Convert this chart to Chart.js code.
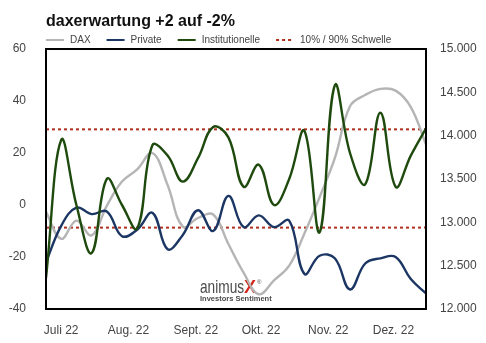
<!DOCTYPE html>
<html>
<head>
<meta charset="utf-8">
<script src="https://cdn.jsdelivr.net/npm/chart.js@4.4.0/dist/chart.umd.min.js"></script>
<style>
  html, body { margin: 0; padding: 0; background: #fff; }
</style>
</head>
<body>
<canvas id="chart" width="486" height="343"></canvas>
<script>
const title = 'daxerwartung +2 auf -2%';

// weekly values (Fridays)
const weeks = ['2022-06-24', '2022-07-01', '2022-07-08', '2022-07-15', '2022-07-22', '2022-07-29',
    '2022-08-05', '2022-08-12', '2022-08-19', '2022-08-26', '2022-09-02', '2022-09-09', '2022-09-16',
    '2022-09-23', '2022-09-30', '2022-10-07', '2022-10-14', '2022-10-21', '2022-10-28', '2022-11-04',
    '2022-11-11', '2022-11-18', '2022-11-25', '2022-12-02', '2022-12-09', '2022-12-16'];
const dax = [13120, 12810, 13020, 12850, 13190, 13470, 13610, 13800, 13430, 12950, 13050, 13090, 12750,
    12420, 12170, 12330, 12500, 12870, 13290, 13740, 14340, 14470, 14540, 14520, 14330, 13900];
const privat = [-22, -8, -1, -3.5, -2.5, -12, -9.5, -3, -17, -11.5, -2, -10, 3.5,
    -8.5, -4, -8.5, -6, -26.5, -19.5, -20.5, -32.5, -22.5, -20.5, -20, -28.5, -34];
const institutionelle = [-28, 25, 0, -18.5, 10, 0, -9, 23, 19, 9, 18, 30, 26,
    7, 15.5, 0, 10, 28.5, -10.5, 46, 20, 8, 35.5, 7, 19, 29.5];
const schwelleOben = 29.1;
const schwelleUnten = -8.7;

// x axis labels
const monthTicks = ['2022-07-01', '2022-08-01', '2022-09-01', '2022-10-01', '2022-11-01', '2022-12-01'];
const monthLabels = ['Juli 22', 'Aug. 22', 'Sept. 22', 'Okt. 22', 'Nov. 22', 'Dez. 22'];

const FONT = '"Liberation Sans", Arial, sans-serif';
Chart.defaults.font.family = FONT;

function dayOf(s) {
    return (Date.parse(s) - Date.parse(weeks[0])) / 86400000;
}
function points(values) {
    return values.map((v, i) => ({ x: dayOf(weeks[i]), y: v }));
}
function flat(v) {
    return [{ x: 0, y: v }, { x: dayOf(weeks[weeks.length - 1]), y: v }];
}
function dotted(n) {
    return String(n).replace(/\B(?=(\d{3})+(?!\d))/g, '.');
}

// frame, title, legend, watermark
const decor = {
    id: 'decor',
    beforeDatasetsDraw(chart) {
        const ctx = chart.ctx;
        ctx.save();
        ctx.textBaseline = 'alphabetic';
        ctx.fillStyle = '#4a4a4a';
        ctx.font = '19px ' + FONT;
        ctx.save();
        ctx.translate(200, 293);
        ctx.scale(0.72, 1);
        ctx.fillText('animus', 0, 0);
        ctx.restore();
        const x = 200 + ctx.measureText('animus').width * 0.72;
        ctx.fillStyle = '#d3261c';
        ctx.font = 'bold 18px ' + FONT;
        ctx.fillText('X', x, 293);
        const x2 = x + ctx.measureText('X').width;
        ctx.fillStyle = '#4a4a4a';
        ctx.font = '6px ' + FONT;
        ctx.fillText('®', x2 + 1, 284);
        ctx.font = 'bold 7.5px ' + FONT;
        ctx.fillText('Investors Sentiment', 200, 301);
        ctx.restore();
    },
    afterDraw(chart) {
        const { ctx, chartArea: a } = chart;
        ctx.save();
        ctx.strokeStyle = '#000';
        ctx.lineWidth = 2;
        ctx.strokeRect(a.left, a.top, a.right - a.left, a.bottom - a.top);

        ctx.fillStyle = '#111';
        ctx.font = 'bold 16px ' + FONT;
        ctx.textBaseline = 'alphabetic';
        ctx.fillText(title, a.left, 26);

        // legend
        ctx.font = '10px ' + FONT;
        ctx.textBaseline = 'middle';
        let x = a.left;
        const seen = [];
        chart.data.datasets.forEach(ds => {
            if (seen.includes(ds.label)) return;
            seen.push(ds.label);
            ctx.strokeStyle = ds.borderColor;
            ctx.lineWidth = 2;
            ctx.setLineDash(ds.borderDash || []);
            ctx.beginPath();
            ctx.moveTo(x, 40);
            ctx.lineTo(x + 18, 40);
            ctx.stroke();
            ctx.setLineDash([]);
            ctx.fillStyle = '#444';
            ctx.fillText(ds.label, x + 24, 40.5);
            x += 24 + ctx.measureText(ds.label).width + 16;
        });
        ctx.restore();
    }
};

const ctx = document.getElementById('chart').getContext('2d');
new Chart(ctx, {
    type: 'line',
    data: {
        datasets: [{
            label: 'DAX',
            data: points(dax),
            yAxisID: 'y1',
            borderColor: '#b5b5b5',
            borderWidth: 2.4,
            order: 3
        }, {
            label: 'Private',
            data: points(privat),
            yAxisID: 'y',
            borderColor: '#1c3664',
            borderWidth: 2.4,
            order: 2
        }, {
            label: 'Institutionelle',
            data: points(institutionelle),
            yAxisID: 'y',
            borderColor: '#1f4a0e',
            borderWidth: 2.4,
            order: 1
        }, {
            label: '10% / 90% Schwelle',
            data: flat(schwelleOben),
            yAxisID: 'y',
            borderColor: '#b0301e',
            borderWidth: 2,
            borderDash: [3, 3],
            tension: 0,
            order: 4
        }, {
            label: '10% / 90% Schwelle',
            data: flat(schwelleUnten),
            yAxisID: 'y',
            borderColor: '#b0301e',
            borderWidth: 2,
            borderDash: [3, 3],
            tension: 0,
            order: 4
        }]
    },
    options: {
        responsive: false,
        animation: false,
        layout: { padding: { top: 49, left: 0, right: 0, bottom: 0 } },
        elements: {
            point: { radius: 0 },
            line: { tension: 0.4 }
        },
        plugins: {
            legend: { display: false },
            tooltip: { enabled: false }
        },
        scales: {
            x: {
                type: 'linear',
                min: 0,
                max: dayOf(weeks[weeks.length - 1]),
                grid: { display: false },
                border: { display: false },
                afterBuildTicks: s => { s.ticks = monthTicks.map(d => ({ value: dayOf(d) })); },
                afterFit: s => { s.height = 34; },
                ticks: {
                    autoSkip: false,
                    maxRotation: 0,
                    padding: 6,
                    color: '#444',
                    font: { size: 12 },
                    callback: (v, i) => monthLabels[i]
                }
            },
            y: {
                position: 'left',
                min: -40,
                max: 60,
                grid: { display: false },
                border: { display: false },
                afterFit: s => { s.width = 46; },
                ticks: { stepSize: 20, padding: 12, color: '#444', font: { size: 12 } }
            },
            y1: {
                position: 'right',
                min: 12000,
                max: 15000,
                grid: { display: false },
                border: { display: false },
                afterFit: s => { s.width = 60; },
                ticks: { stepSize: 500, padding: 6, color: '#444', font: { size: 12 }, callback: v => dotted(v) }
            }
        }
    },
    plugins: [decor]
});
</script>
</body>
</html>
